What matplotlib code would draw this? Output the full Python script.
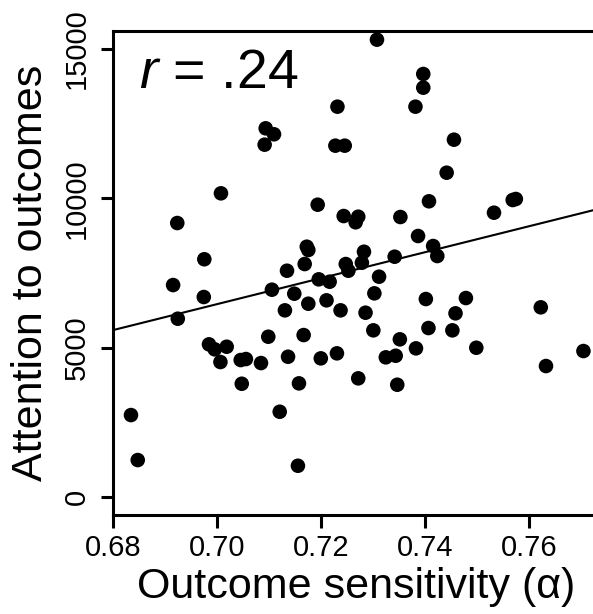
import numpy as np
import matplotlib
matplotlib.use("Agg")
import matplotlib.pyplot as plt

# outcome sensitivity (alpha) per participant
sensitivity = [
    0.7231, 0.7093, 0.7109, 0.7091, 0.7227, 0.7245, 0.7007, 0.7193, 0.7243, 0.6923,
    0.7172, 0.7307, 0.7396, 0.7396, 0.7381, 0.7455, 0.7441, 0.7407, 0.7568, 0.7574,
    0.7532, 0.7271, 0.7266, 0.7352, 0.7386, 0.7415, 0.7282, 0.7341, 0.7423, 0.7175,
    0.6975, 0.7168, 0.7134, 0.6915, 0.7195, 0.7216, 0.6974, 0.7105, 0.7148, 0.7210,
    0.7175, 0.7130, 0.7237, 0.6924, 0.7098, 0.7166, 0.6984, 0.6995, 0.7018, 0.7006,
    0.7045, 0.7055, 0.7084, 0.7136, 0.7199, 0.7230, 0.7047, 0.7157, 0.7120, 0.6834,
    0.6847, 0.7155, 0.7247, 0.7278, 0.7252, 0.7311, 0.7302, 0.7285, 0.7401, 0.7478,
    0.7458, 0.7622, 0.7300, 0.7406, 0.7452, 0.7351, 0.7382, 0.7498, 0.7324, 0.7343,
    0.7704, 0.7632, 0.7271, 0.7346,
]

# attention to outcomes
attention = [
    13067, 12343, 12143, 11795, 11762, 11762, 10167, 9786, 9407, 9173,
    8380, 15310, 14161, 13703, 13067, 11962, 10857, 9900, 9943, 9977,
    9518, 9384, 9197, 9374, 8738, 8403, 8212, 8045, 8068, 8269,
    7960, 7800, 7576, 7097, 7288, 7208, 6696, 6941, 6807, 6585,
    6472, 6250, 6250, 5970, 5367, 5423, 5112, 4945, 5032, 4520,
    4587, 4620, 4486, 4697, 4643, 4811, 3793, 3806, 2856, 2745,
    1239, 1048, 7800, 7844, 7576, 7376, 6819, 6171, 6629, 6662,
    6150, 6351, 5581, 5658, 5581, 5280, 4978, 4998, 4677, 4730,
    4888, 4386, 3974, 3760,
]

# regression line as shown in the figure
fit_slope = 43460.0
fit_intercept = -23962.0

x_ticks = [0.68, 0.70, 0.72, 0.74, 0.76]
y_ticks = [0, 5000, 10000, 15000]

plt.rcParams['font.family'] = ['Liberation Sans', 'DejaVu Sans']
plt.rcParams['mathtext.fontset'] = 'custom'
plt.rcParams['mathtext.it'] = 'Liberation Sans:italic'
plt.rcParams['mathtext.rm'] = 'Liberation Sans'

fig = plt.figure(figsize=(5.93, 6.14), dpi=100)
ax = fig.add_axes([113.3 / 593, 99 / 614, (598 - 113.3) / 593, 484 / 614])

ax.scatter(sensitivity, attention, s=110, color='black', edgecolors='none', zorder=3)

xs = np.array([0.675, 0.78])
ax.plot(xs, fit_intercept + fit_slope * xs, color='black', lw=1.5)

ax.set_xlim(0.68, 0.7732)
ax.set_ylim(-600, 15600)
ax.set_xticks(x_ticks)
ax.set_xticklabels(['%.2f' % t for t in x_ticks])
ax.set_yticks(y_ticks)
ax.set_yticklabels([str(t) for t in y_ticks], rotation=90, va='center')

for s in ax.spines.values():
    s.set_linewidth(2.2)
ax.tick_params(direction='out', length=9, width=2.2, labelsize=21)
ax.tick_params(axis='x', pad=5)
ax.tick_params(axis='y', pad=7)

ax.set_xlabel('Outcome sensitivity (\u03b1)', fontsize=31, labelpad=3)
ax.set_ylabel('Attention to outcomes', fontsize=31, labelpad=9)

ax.text(0.054, 0.965, r'$r$ = .24', transform=ax.transAxes, fontsize=40,
        va='top', ha='left')

fig.savefig('out.png', dpi=100)
